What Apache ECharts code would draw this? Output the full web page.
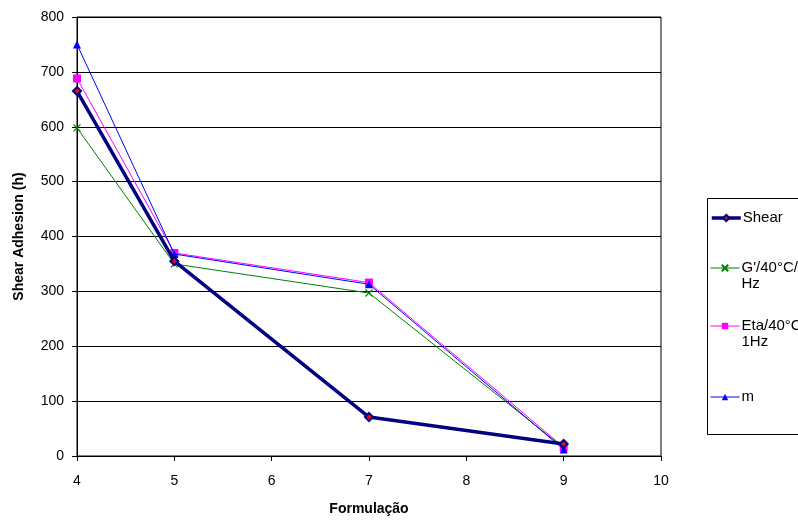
<!DOCTYPE html>
<html><head><meta charset="utf-8">
<script src="https://cdn.jsdelivr.net/npm/echarts@6/dist/echarts.min.js"></script>
<style>html,body{margin:0;padding:0;background:#fff}#c{width:798px;height:520px}</style>
</head><body><div id="c"></div>
<script>
const xValues = [4, 5, 7, 9];
const shear = [665, 355, 71, 22];
const gPrime = [598, 350, 297, 15];
const eta = [688, 370, 316, 16];
const m = [750, 368, 313, 12];
const seriesNames = ['Shear', "G'/40°C/1Hz", 'Eta/40°C 1Hz', 'm'];
const legendLabels = ['Shear', "\nG'/40°C/\nHz", '\nEta/40°C\n1Hz', 'm'];
const xTicks = [4, 5, 6, 7, 8, 9, 10];
const yTicks = [0, 100, 200, 300, 400, 500, 600, 700, 800];

const pairs = arr => xValues.map((x, i) => [x, arr[i]]);
const font = 'Liberation Sans, Arial, sans-serif';
const LH = 16;
const legendCentres = [218, 268, 326, 397];
const legendLineWidths = [3.5, 1, 1, 1];
const legends = seriesNames.map((n, i) => {
  const lines = legendLabels[i].split('\n').length;
  return {
    orient: 'vertical', left: 710, top: legendCentres[i] - lines * LH / 2,
    padding: 0, itemWidth: 29, itemHeight: 8, itemGap: 2,
    lineStyle: {width: legendLineWidths[i]},
    textStyle: {fontFamily: font, fontSize: 15, color: '#000', lineHeight: LH, padding: [0, 0, 0, -3]},
    formatter: () => legendLabels[i],
    data: [n]
  };
});
const chart = echarts.init(document.getElementById('c'), null, {renderer: 'canvas'});
chart.setOption({
  animation: false,
  backgroundColor: '#fff',
  grid: {left: 77, right: 137, top: 17, bottom: 64, show: true, borderColor: '#000', borderWidth: 1,
         containLabel: false, outerBoundsMode: 'none'},
  graphic: [{type: 'rect', shape: {x: 707.5, y: 198.5, width: 120, height: 236},
    style: {fill: 'none', stroke: '#000', lineWidth: 1}, z: 1}],
  xAxis: {
    type: 'value', min: xTicks[0], max: xTicks[xTicks.length - 1], interval: 1,
    name: 'Formulação', nameLocation: 'middle', nameGap: 46,
    nameTextStyle: {fontFamily: font, fontWeight: 'bold', fontSize: 14, color: '#000'},
    axisLine: {show: true, lineStyle: {color: '#000'}},
    axisTick: {show: true, length: 5, lineStyle: {color: '#000'}},
    axisLabel: {fontFamily: font, fontSize: 14, color: '#000', margin: 18},
    splitLine: {show: false}
  },
  yAxis: {
    type: 'value', min: yTicks[0], max: yTicks[yTicks.length - 1], interval: 100,
    name: 'Shear Adhesion (h)', nameLocation: 'middle', nameGap: 51,
    nameTextStyle: {fontFamily: font, fontWeight: 'bold', fontSize: 14, color: '#000'},
    axisLine: {show: true, lineStyle: {color: '#000'}},
    axisTick: {show: true, length: 5, lineStyle: {color: '#000'}},
    axisLabel: {fontFamily: font, fontSize: 14, color: '#000', margin: 13},
    splitLine: {show: true, lineStyle: {color: '#000', width: 1}}
  },
  legend: legends,
  series: [
    {name: seriesNames[1], type: 'line', data: pairs(gPrime), z: 2,
     symbol: 'path://M0,0L10,10M10,0L0,10', symbolSize: 7,
     lineStyle: {color: '#008000', width: 1}, itemStyle: {color: 'none', borderColor: '#008000', borderWidth: 1.2}},
    {name: seriesNames[2], type: 'line', data: pairs(eta), z: 3,
     symbol: 'rect', symbolSize: 8,
     lineStyle: {color: '#FF00FF', width: 1}, itemStyle: {color: '#FF00FF'}},
    {name: seriesNames[3], type: 'line', data: pairs(m), z: 4,
     symbol: 'triangle', symbolSize: 8,
     lineStyle: {color: '#0000FF', width: 1}, itemStyle: {color: '#0000FF'}},
    {name: seriesNames[0], type: 'line', data: pairs(shear), z: 5,
     symbol: 'diamond', symbolSize: 8,
     lineStyle: {color: '#000080', width: 3.5}, itemStyle: {color: '#FF0000', borderColor: '#000080', borderWidth: 2}}
  ]
});
</script></body></html>
